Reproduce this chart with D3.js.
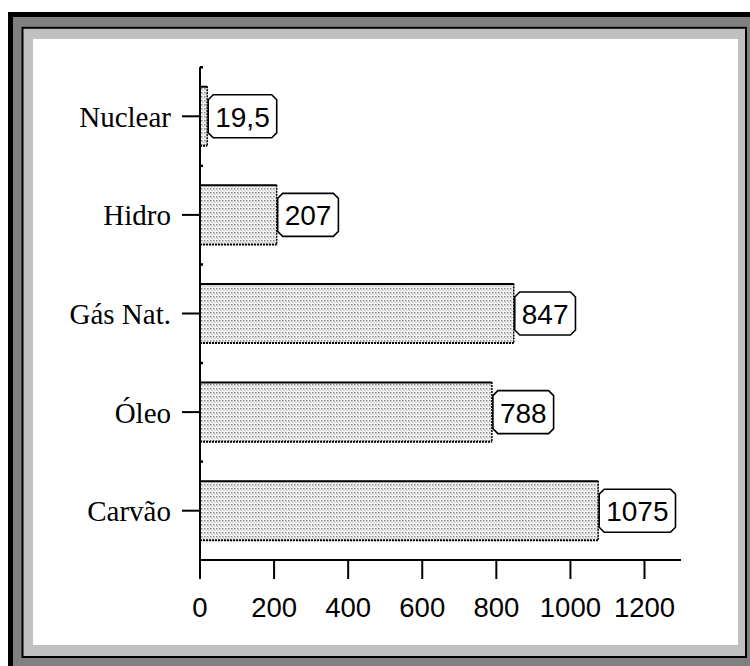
<!DOCTYPE html>
<html><head><meta charset="utf-8">
<script src="https://cdn.jsdelivr.net/npm/d3@7"></script>
<style>html,body{margin:0;padding:0;background:#fff;}svg{display:block;}</style>
</head><body>
<svg id="c" width="750" height="666"></svg>
<script>
const categories = ["Nuclear", "Hidro", "Gás Nat.", "Óleo", "Carvão"];
const values = [19.5, 207, 847, 788, 1075];
const valueLabels = ["19,5", "207", "847", "788", "1075"];
const xTicks = [0, 200, 400, 600, 800, 1000, 1200];

const svg = d3.select("#c");

// frame
svg.append("rect").attr("x", 8).attr("y", 12).attr("width", 760).attr("height", 680).attr("fill", "#000");
svg.append("rect").attr("x", 13).attr("y", 17).attr("width", 760).attr("height", 680).attr("fill", "#808080");
svg.append("rect").attr("x", 22.5).attr("y", 27.8).attr("width", 723.5).attr("height", 629.2)
  .attr("fill", "#c0c0c0").attr("stroke", "#000").attr("stroke-width", 2);
svg.append("rect").attr("x", 33).attr("y", 39).attr("width", 705).attr("height", 606).attr("fill", "#fff");

// pattern
const defs = svg.append("defs");
const pat = defs.append("pattern").attr("id", "dots").attr("patternUnits", "userSpaceOnUse")
  .attr("width", 3).attr("height", 4);
pat.append("rect").attr("width", 3).attr("height", 4).attr("fill", "#f4f4f4");
pat.append("rect").attr("x", 0).attr("y", 0).attr("width", 1.5).attr("height", 1.5).attr("fill", "#8a8a8a");
pat.append("rect").attr("x", 1.5).attr("y", 2).attr("width", 1).attr("height", 1).attr("fill", "#b0b0b0");

const x = d3.scaleLinear().domain([0, 1200]).range([200, 644.5]);
const y = d3.scaleBand().domain(categories).range([67, 560]).paddingInner(0.39).paddingOuter(0.195);

const data = categories.map((c, i) => ({c, v: values[i], l: valueLabels[i]}));

// bars
const bars = svg.append("g");
data.forEach(d => {
  const x0 = x(0), x1 = x(d.v), y0 = y(d.c), h = y.bandwidth();
  bars.append("rect").attr("x", x0).attr("y", y0).attr("width", x1 - x0).attr("height", h)
    .attr("fill", "url(#dots)");
  bars.append("line").attr("x1", x0).attr("x2", x1).attr("y1", y0 + 0.5).attr("y2", y0 + 0.5)
    .attr("stroke", "#000").attr("stroke-width", 2);
  bars.append("line").attr("x1", x0).attr("x2", x1).attr("y1", y0 + h - 0.5).attr("y2", y0 + h - 0.5)
    .attr("stroke", "#000").attr("stroke-width", 2).attr("stroke-dasharray", "2,1");
  bars.append("line").attr("x1", x1).attr("x2", x1).attr("y1", y0).attr("y2", y0 + h)
    .attr("stroke", "#000").attr("stroke-width", 1.5).attr("stroke-dasharray", "2,1");
});

// x axis
const xa = svg.append("g");
xa.append("line").attr("x1", 200).attr("x2", 681).attr("y1", 560).attr("y2", 560)
  .attr("stroke", "#000").attr("stroke-width", 2);
xTicks.forEach(t => {
  xa.append("line").attr("x1", x(t)).attr("x2", x(t)).attr("y1", 560).attr("y2", 579)
    .attr("stroke", "#000").attr("stroke-width", 2);
  xa.append("text").attr("x", x(t)).attr("y", 617).attr("text-anchor", "middle")
    .attr("font-family", "Liberation Sans, Arial, sans-serif").attr("font-size", 27.5)
    .attr("fill", "#000").text(t);
});

// y axis
const ya = svg.append("g");
ya.append("line").attr("x1", 200).attr("x2", 200).attr("y1", 67).attr("y2", 560)
  .attr("stroke", "#000").attr("stroke-width", 2);
// minor ticks at band boundaries
const step = y.step();
for (let k = 0; k < categories.length; k++) {
  const yb = y(categories[k]) - y.step() * y.paddingInner() / 2;
  ya.append("rect").attr("x", 200).attr("y", yb - 1).attr("width", 3).attr("height", 2.5).attr("fill", "#000");
}
data.forEach(d => {
  const cy = y(d.c) + y.bandwidth() / 2;
  ya.append("line").attr("x1", 182).attr("x2", 200).attr("y1", cy).attr("y2", cy)
    .attr("stroke", "#000").attr("stroke-width", 2);
  ya.append("text").attr("x", 171).attr("y", cy).attr("dy", "0.36em").attr("text-anchor", "end")
    .attr("font-family", "Liberation Serif, Times New Roman, serif").attr("font-size", 29)
    .attr("fill", "#000").text(d.c);
});

// value label boxes
const lab = svg.append("g");
data.forEach(d => {
  const cy = y(d.c) + y.bandwidth() / 2;
  const bx = x(d.v) + 1;
  const g = lab.append("g");
  const path = g.append("path");
  const t = g.append("text").attr("y", cy + 10.5)
    .attr("font-family", "Liberation Sans, Arial, sans-serif").attr("font-size", 28)
    .attr("fill", "#000").text(d.l);
  const tw = t.node().getComputedTextLength();
  const pad = 7, h = 43, c = 5;
  const w = tw + pad * 2;
  const y0 = cy - h / 2;
  t.attr("x", bx + pad);
  path.attr("d", `M${bx + c},${y0} H${bx + w - c} L${bx + w},${y0 + c} V${y0 + h - c} L${bx + w - c},${y0 + h} H${bx + c} L${bx},${y0 + h - c} V${y0 + c} Z`)
    .attr("fill", "#fff").attr("stroke", "#000").attr("stroke-width", 1.6);
});
</script>
</body></html>
